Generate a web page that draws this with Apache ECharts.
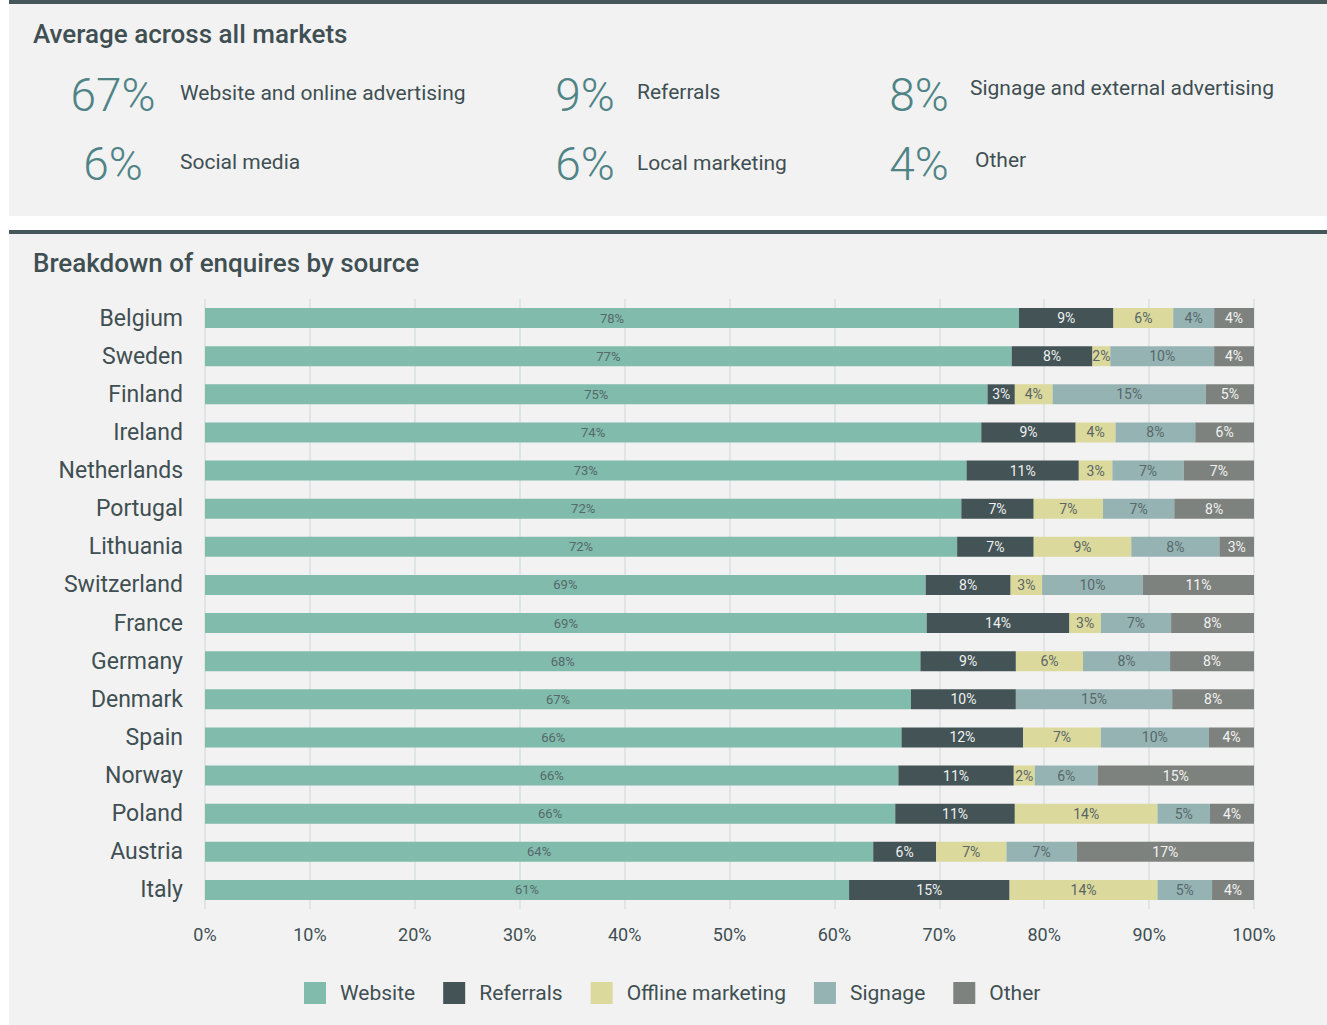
<!DOCTYPE html>
<html>
<head>
<meta charset="utf-8">
<script src="https://cdn.jsdelivr.net/npm/echarts@6/dist/echarts.min.js"></script>
<style>
  html, body { margin: 0; padding: 0; background: #ffffff; }
  #chart { width: 1327px; height: 1025px; }
</style>
</head>
<body>
<div id="chart"></div>
<script>
// Headline averages across all markets
const statValues = ['67%', '9%', '8%', '6%', '6%', '4%'];
const statLabels = ['Website and online advertising', 'Referrals', 'Signage and external advertising',
                    'Social media', 'Local marketing', 'Other'];

// Breakdown of enquiries by source, share of each market (%)
const countries = ['Belgium', 'Sweden', 'Finland', 'Ireland', 'Netherlands', 'Portugal', 'Lithuania',
                   'Switzerland', 'France', 'Germany', 'Denmark', 'Spain', 'Norway', 'Poland', 'Austria', 'Italy'];
const website   = [77.6, 76.9, 74.6, 74.0, 72.6, 72.1, 71.7, 68.7, 68.8, 68.2, 67.3, 66.4, 66.1, 65.8, 63.7, 61.4];
const referrals = [ 9.0,  7.7,  2.6,  9.0, 10.7,  6.9,  7.3,  8.1, 13.6,  9.1, 10.0, 11.6, 11.0, 11.4,  6.0, 15.3];
const offline   = [ 5.7,  1.7,  3.6,  3.8,  3.2,  6.6,  9.3,  3.0,  3.0,  6.4,  0.0,  7.4,  2.0, 13.6,  6.7, 14.1];
const signage   = [ 3.9,  9.9, 14.6,  7.6,  6.8,  6.8,  8.4,  9.6,  6.7,  8.3, 14.9, 10.3,  6.0,  5.0,  6.7,  5.2];
const other     = [ 3.8,  3.8,  4.6,  5.6,  6.7,  7.6,  3.3, 10.6,  7.9,  8.0,  7.8,  4.3, 14.9,  4.2, 16.9,  4.0];
const seriesNames = ['Website', 'Referrals', 'Offline marketing', 'Signage', 'Other'];
const xTicks = [0, 10, 20, 30, 40, 50, 60, 70, 80, 90, 100];

const FONT = 'Roboto, "Noto Sans", sans-serif';
const INK = '#3f4f52';
const TEAL = '#4f8385';

const colors = ['#80bbab', '#445355', '#dbd99c', '#96b3b4', '#7e827e'];
const labelColors = ['#56686a', '#eef2f2', '#5a6566', '#56686a', '#f2f2f2'];
const labelSizes = [13, 14, 14, 14, 14];
const seriesData = [website, referrals, offline, signage, other];

const chart = echarts.init(document.getElementById('chart'), null, { renderer: 'svg' });

// Panels, rules and headline figures
const graphics = [
  { type: 'rect', z: -10, shape: { x: 9, y: 0, width: 1318, height: 216 }, style: { fill: '#f2f2f2' } },
  { type: 'rect', z: -9, shape: { x: 9, y: 0, width: 1318, height: 4 }, style: { fill: '#45575a' } },
  { type: 'rect', z: -10, shape: { x: 9, y: 230, width: 1318, height: 795 }, style: { fill: '#f2f2f2' } },
  { type: 'rect', z: -9, shape: { x: 9, y: 230, width: 1318, height: 4 }, style: { fill: '#45575a' } },
  { type: 'text', x: 33, y: 34, style: { text: 'Average across all markets', fill: INK,
      font: '500 26px ' + FONT, textVerticalAlign: 'middle' } },
  { type: 'text', x: 33, y: 263, style: { text: 'Breakdown of enquires by source', fill: INK,
      font: '500 26px ' + FONT, textVerticalAlign: 'middle' } }
];
const numCenters = [113, 585, 919];
const textLefts = [[180, 637, 970], [180, 637, 975]];
const numY = [95, 164];
const textY = [[93, 92, 88], [162, 163, 160]];
statValues.forEach((v, i) => {
  const col = i % 3, row = Math.floor(i / 3);
  graphics.push({ type: 'text', x: numCenters[col], y: numY[row],
    style: { text: v, fill: TEAL, font: '300 46px ' + FONT, textAlign: 'center', textVerticalAlign: 'middle' } });
  graphics.push({ type: 'text', x: textLefts[row][col], y: textY[row][col],
    style: { text: statLabels[i], fill: INK, font: '21px ' + FONT, textAlign: 'left', textVerticalAlign: 'middle' } });
});

chart.setOption({
  animation: false,
  textStyle: { fontFamily: FONT },
  graphic: graphics,
  color: colors,
  grid: { left: 205, right: 73, top: 299, bottom: 116, containLabel: false },
  legend: {
    data: seriesNames,
    left: 299,
    top: 977,
    itemWidth: 22,
    itemHeight: 22,
    itemGap: 28,
    icon: 'rect',
    textStyle: { color: INK, fontSize: 21, fontFamily: FONT, padding: [0, 0, 0, 9] }
  },
  xAxis: {
    type: 'value',
    min: xTicks[0],
    max: xTicks[xTicks.length - 1],
    interval: 10,
    axisLine: { show: false },
    axisTick: { show: false },
    splitLine: { lineStyle: { color: '#dfe5e5', width: 2 } },
    axisLabel: { formatter: '{value}%', color: INK, fontSize: 18, margin: 16, fontFamily: FONT }
  },
  yAxis: {
    type: 'category',
    inverse: true,
    data: countries,
    axisLine: { show: false },
    axisTick: { show: false },
    axisLabel: { color: INK, fontSize: 23, margin: 22, fontFamily: FONT }
  },
  series: seriesNames.map((name, i) => ({
    name: name,
    type: 'bar',
    stack: 'total',
    barWidth: 20,
    data: seriesData[i],
    itemStyle: { color: colors[i] },
    label: {
      show: true,
      position: 'inside',
      color: labelColors[i],
      fontSize: labelSizes[i],
      fontFamily: FONT,
      formatter: p => (p.value > 0 ? Math.round(p.value) + '%' : '')
    }
  }))
});
</script>
</body>
</html>
